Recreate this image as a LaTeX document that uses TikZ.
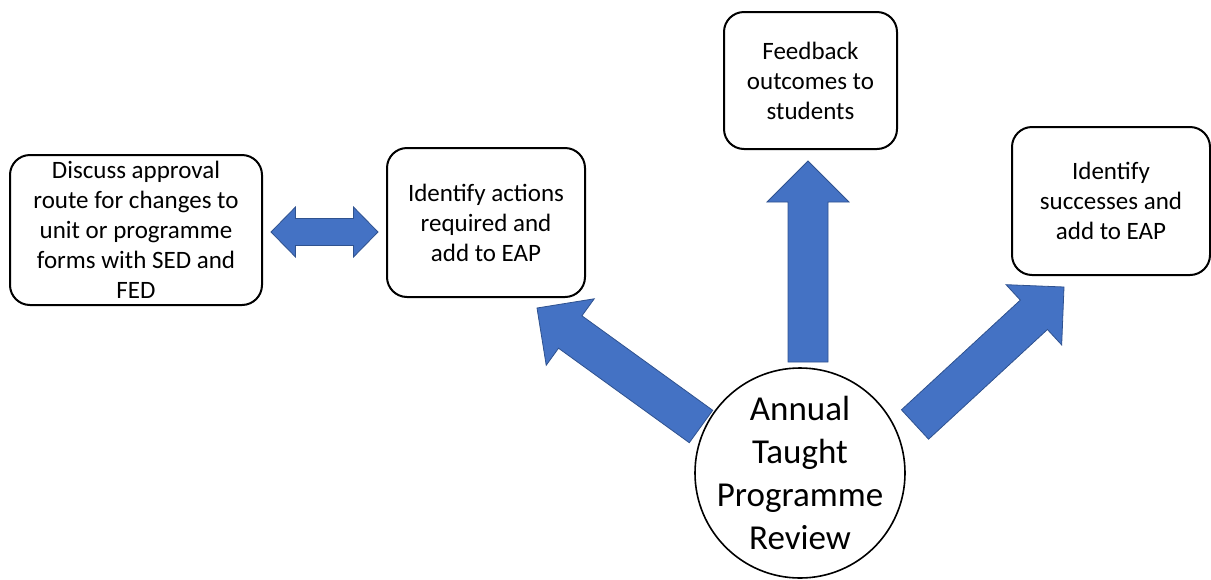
\documentclass[tikz,border=0pt]{standalone}
\usepackage{fontspec}
\setmainfont{Carlito}
\usepackage{tikz}
\usetikzlibrary{calc}
\definecolor{arrowblue}{HTML}{4472C4}
\definecolor{arrowedge}{HTML}{2F528F}
\tikzset{
stepbox/.style={draw,line width=1pt,rounded corners=10pt,align=center,inner sep=0pt,font=\fontsize{12.5}{15}\selectfont},
reviewcircle/.style={draw,circle,line width=0.8pt,align=center,inner sep=-4pt,minimum size=105pt,font=\fontsize{17.5}{21.5}\selectfont},
blockarrow/.style={fill=arrowblue,draw=arrowedge,line width=0.4pt,line join=miter}
}
% #1 tail, #2 tip, #3 half shaft, #4 half head, #5 head length
\newcommand{\blockarrow}[5]{%
\path ($(#2)!#5!(#1)$) coordinate (ba);
\draw[blockarrow] ($(#1)!#3!90:(#2)$) -- ($(ba)!#3!90:(#2)$) -- ($(ba)!#4!90:(#2)$) -- (#2)
 -- ($(ba)!#4!-90:(#2)$) -- ($(ba)!#3!-90:(#2)$) -- ($(#1)!#3!-90:(#2)$) -- cycle;
}
\newcommand{\dblarrow}[5]{%
\path ($(#1)!#5!(#2)$) coordinate (bl) ($(#2)!#5!(#1)$) coordinate (br);
\draw[blockarrow] (#1) -- ($(bl)!#4!90:(#2)$) -- ($(bl)!#3!90:(#2)$) -- ($(br)!#3!90:(#2)$) -- ($(br)!#4!90:(#2)$) -- (#2)
 -- ($(br)!#4!-90:(#2)$) -- ($(br)!#3!-90:(#2)$) -- ($(bl)!#3!-90:(#2)$) -- ($(bl)!#4!-90:(#2)$) -- cycle;
}
\begin{document}
\begin{tikzpicture}[x=0.5pt,y=-0.5pt]
\useasboundingbox (0,0) rectangle (1211,579);
\node[stepbox,minimum width=126pt,minimum height=75pt] (discuss) at (136,230) {Discuss approval\\route for changes to\\unit or programme\\forms with SED and\\FED};
\node[stepbox,minimum width=99pt,minimum height=74.5pt] (actions) at (486,222.5) {Identify actions\\required and\\add to EAP};
\node[stepbox,minimum width=86.5pt,minimum height=68.5pt] (feedback) at (810.5,80.5) {Feedback\\outcomes to\\students};
\node[stepbox,minimum width=99pt,minimum height=74pt] (successes) at (1111,201) {Identify\\successes and\\add to EAP};
\node[reviewcircle] (review) at (800,473) {Annual\\Taught\\Programme\\Review};
\coordinate (dblL) at (271,232);
\coordinate (dblR) at (378,232);
\coordinate (leftTail) at (701,426.5);
\coordinate (leftTip) at (537,308);
\coordinate (upTail) at (808,362);
\coordinate (upTip) at (808,161);
\coordinate (rightTail) at (915,424.5);
\coordinate (rightTip) at (1064,287);
\dblarrow{dblL}{dblR}{6.75pt}{12.5pt}{12.25pt}
\blockarrow{leftTail}{leftTip}{10pt}{20.5pt}{20.5pt}
\blockarrow{upTail}{upTip}{10pt}{20.5pt}{20.5pt}
\blockarrow{rightTail}{rightTip}{10pt}{20.5pt}{20.5pt}
\end{tikzpicture}
\end{document}
